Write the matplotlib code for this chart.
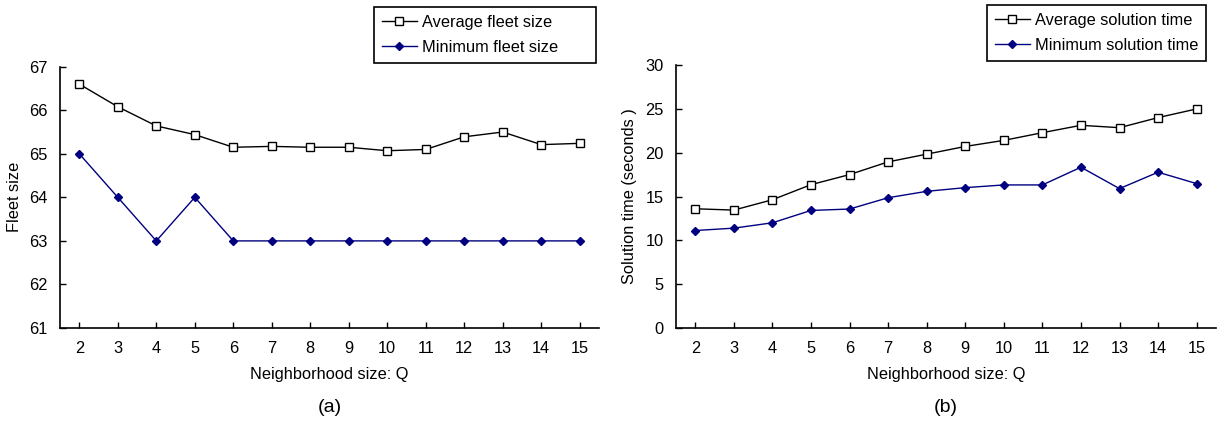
import matplotlib.pyplot as plt

plt.rcParams['font.family'] = ['Liberation Sans', 'DejaVu Sans']
plt.rcParams['font.size'] = 11.8

q = list(range(2, 16))

avg_fleet = [66.60, 66.08, 65.64, 65.44, 65.15, 65.17, 65.15, 65.15, 65.07, 65.10, 65.39, 65.50, 65.21, 65.24]
min_fleet = [65, 64, 63, 64, 63, 63, 63, 63, 63, 63, 63, 63, 63, 63]

avg_time = [13.60, 13.45, 14.63, 16.35, 17.50, 18.95, 19.83, 20.71, 21.40, 22.28, 23.12, 22.85, 24.00, 24.99]
min_time = [11.12, 11.39, 12.00, 13.41, 13.57, 14.86, 15.59, 16.01, 16.32, 16.32, 18.34, 15.90, 17.77, 16.47]

navy = '#000080'

fig = plt.figure(figsize=(12.18, 4.21), dpi=100)
ax1 = fig.add_axes([0.0493, 0.2209, 0.4425, 0.6207])
ax2 = fig.add_axes([0.555, 0.2209, 0.4433, 0.6247])


def style_axes(ax, ylim, yticks):
    ax.set_xlim(1.5, 15.5)
    ax.set_ylim(*ylim)
    ax.set_xticks(q)
    ax.set_yticks(yticks)
    for s in ['top', 'right']:
        ax.spines[s].set_visible(False)
    for s in ['left', 'bottom']:
        ax.spines[s].set_linewidth(1.2)
    ax.tick_params(axis='x', direction='in', length=4.5, width=1.0, pad=9)
    ax.tick_params(axis='y', direction='in', length=4.5, width=1.0, pad=9)
    ax.set_xlabel('Neighborhood size: Q', labelpad=8)


def add_legend(ax, box):
    leg = ax.legend(loc='upper left', bbox_to_anchor=box, mode='expand',
                    borderaxespad=0, fancybox=False, edgecolor='black',
                    framealpha=1, handlelength=2.1, handletextpad=0.3,
                    borderpad=0.5, labelspacing=0.6)
    leg.get_frame().set_linewidth(1.2)
    return leg


# (a) fleet size
ax1.plot(q, avg_fleet, color='black', lw=1, marker='s', ms=5.5,
         mfc='white', mec='black', mew=1, label='Average fleet size', clip_on=False)
ax1.plot(q, min_fleet, color=navy, lw=1, marker='D', ms=4.5,
         mfc=navy, mec=navy, label='Minimum fleet size', clip_on=False)
style_axes(ax1, (61, 67), range(61, 68))
ax1.set_ylabel('Fleet size', labelpad=5)
ax1.text(0.5, -0.305, '(a)', transform=ax1.transAxes, ha='center', va='center', fontsize=14)
add_legend(ax1, (0.5826, 1.018, 0.412, 0.2105))

# (b) solution time
ax2.plot(q, avg_time, color='black', lw=1, marker='s', ms=5.5,
         mfc='white', mec='black', mew=1, label='Average solution time', clip_on=False)
ax2.plot(q, min_time, color=navy, lw=1, marker='D', ms=4.5,
         mfc=navy, mec=navy, label='Minimum solution time', clip_on=False)
style_axes(ax2, (0, 30), range(0, 31, 5))
ax2.set_ylabel('Solution time (seconds )', labelpad=6)
ax2.text(0.5, -0.303, '(b)', transform=ax2.transAxes, ha='center', va='center', fontsize=14)
add_legend(ax2, (0.576, 1.019, 0.4056, 0.209))

fig.savefig('out.png', dpi=100)
